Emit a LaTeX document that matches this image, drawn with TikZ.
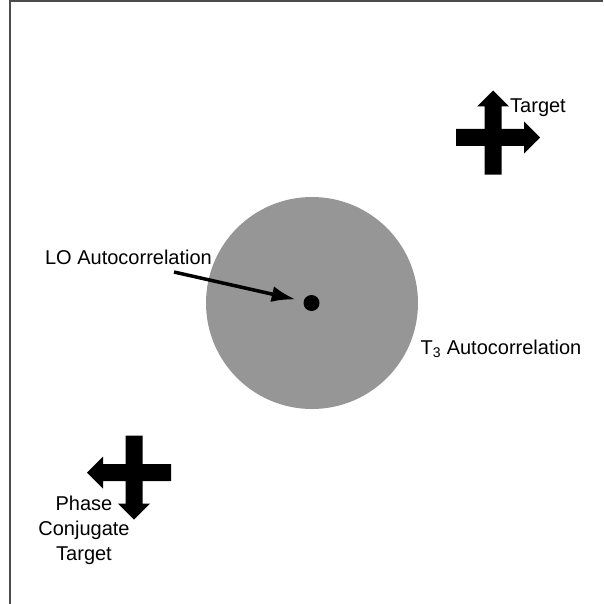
\documentclass[tikz,border=0pt]{standalone}
\usepackage{fontspec}
\setmainfont{Liberation Sans}
\usetikzlibrary{arrows.meta}
\definecolor{diskgray}{RGB}{150,150,150}
\begin{document}
\begin{tikzpicture}[x=1pt,y=-1pt,
    lbl/.style={inner sep=0pt,font=\fontsize{20}{25}\selectfont},
    pointer/.style={line width=3.5pt,-{Latex[length=24pt,width=16pt]},shorten >=8pt}]
  \useasboundingbox (0,0) rectangle (603,604);
  \draw[line width=1.5pt,black!70] (10,604) -- (10,1) -- (603,1);
  % disk and dot
  \node[circle,fill=diskgray,minimum size=212pt,inner sep=0pt] (t3disk) at (312,303) {};
  \node[circle,fill=black,minimum size=16pt,inner sep=0pt] (lodot) at (311.5,303) {};
  % the two crosses
  \foreach \cx/\cy/\r in {493/137.5/0, 134/472.5/180}
  {
    \begin{scope}[shift={(\cx,\cy)},rotate=\r]
      \fill[black] (-8.5,37) -- (-8.5,-31) -- (-16,-31) -- (0,-47) -- (16,-31) -- (8.5,-31) -- (8.5,37) -- cycle;
      \fill[black] (-37,-8.5) -- (31,-8.5) -- (31,-16) -- (47,0) -- (31,16) -- (31,8.5) -- (-37,8.5) -- cycle;
    \end{scope}
  }
  % labels
  \node[lbl,anchor=base] (lolabel) at (128.5,264.5) {LO Autocorrelation};
  \node[lbl,anchor=base west] (t3label) at (420.5,354.5) {T\textsubscript{3} Autocorrelation};
  \node[lbl,anchor=base west] (targetlabel) at (510,112.7) {Target};
  \node[lbl,anchor=north,align=center] (pclabel) at (84,495.5) {Phase\\Conjugate\\Target};
  \coordinate (lotail) at (174,272);
  \draw[pointer] (lotail) -- (lodot);
\end{tikzpicture}
\end{document}
